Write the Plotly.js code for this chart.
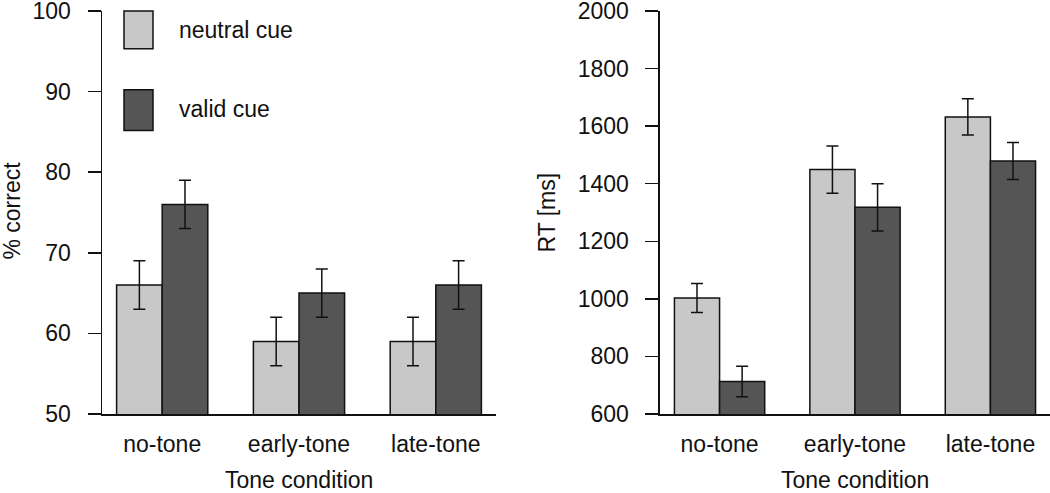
<!DOCTYPE html>
<html>
<head>
<meta charset="UTF-8">
<script src="https://cdn.plot.ly/plotly-3.0.1.min.js"></script>
<style>
  body { margin: 0; background: #fff; }
  #plot { width: 1050px; height: 493px; }
</style>
</head>
<body>
<div id="plot"></div>
<script>
	// tone conditions on the x axis
	var conditions = ['no-tone', 'early-tone', 'late-tone'];

	// accuracy, % correct
	var accNeutral = [66, 59, 59];
	var accNeutralErr = [3, 3, 3];
	var accValid = [76, 65, 66];
	var accValidErr = [3, 3, 3];

	// reaction time, ms
	var rtNeutral = [1003, 1449, 1632];
	var rtNeutralErr = [50, 82, 63];
	var rtValid = [713, 1318, 1479];
	var rtValidErr = [53, 82, 64];

	var seriesNames = ['neutral cue', 'valid cue'];
	var lightGrey = '#c8c8c8';
	var darkGrey = '#555555';
	var fontFamily = '"Liberation Sans", Arial, sans-serif';
	var fs = 23;

	function barTrace(y, err, colour, name, xa, ya)
	{
		return {
			type: 'bar',
			x: conditions,
			y: y,
			name: name,
			xaxis: xa,
			yaxis: ya,
			showlegend: false,
			marker: { color: colour, line: { color: '#111', width: 1.5 } },
			error_y: { type: 'data', array: err, visible: true, color: '#111', thickness: 1.5, width: 6 }
		};
	}

	var data = [
		barTrace(accNeutral, accNeutralErr, lightGrey, seriesNames[0], 'x', 'y'),
		barTrace(accValid, accValidErr, darkGrey, seriesNames[1], 'x', 'y'),
		barTrace(rtNeutral, rtNeutralErr, lightGrey, seriesNames[0], 'x2', 'y2'),
		barTrace(rtValid, rtValidErr, darkGrey, seriesNames[1], 'x2', 'y2')
	];

	function xAxis(domain, anchor)
	{
		return {
			domain: domain,
			anchor: anchor,
			range: [-0.44, 2.44],
			showline: true,
			linecolor: '#111',
			linewidth: 1.5,
			ticks: '',
			ticklabelstandoff: 9,
			showgrid: false,
			zeroline: false,
			tickfont: { size: fs, color: '#111' }
		};
	}

	function yAxis(range, dtick, anchor)
	{
		return {
			anchor: anchor,
			range: range,
			dtick: dtick,
			showline: true,
			linecolor: '#111',
			linewidth: 1.5,
			ticks: 'outside',
			ticklen: 13,
			tickwidth: 1.5,
			tickcolor: '#111',
			ticklabelstandoff: 12,
			ticklabeloverflow: 'allow',
			showgrid: false,
			zeroline: false,
			tickfont: { size: fs, color: '#111' }
		};
	}

	// axis titles as annotations so they sit where the original has them
	function label(x, y, text, angle)
	{
		return { xref: 'paper', yref: 'paper', x: x, y: y, xanchor: 'center', yanchor: 'middle',
			text: text, textangle: angle, showarrow: false, font: { size: fs, color: '#111' } };
	}

	var layout = {
		width: 1050,
		height: 493,
		margin: { l: 102, r: 0, t: 11, b: 79 },
		paper_bgcolor: '#fff',
		plot_bgcolor: '#fff',
		font: { family: fontFamily, color: '#111' },
		barmode: 'group',
		bargap: 1 / 3,
		bargroupgap: 0,
		showlegend: false,
		xaxis: xAxis([0, 0.4156], 'y'),
		yaxis: yAxis([50, 100], 10, 'x'),
		xaxis2: xAxis([0.5886, 1], 'y2'),
		yaxis2: yAxis([600, 2000], 200, 'x2'),
		// hand made legend, big boxes like the original
		shapes: [
			{ type: 'rect', xref: 'paper', yref: 'paper', x0: 0.0232, x1: 0.0538, y0: 0.9062, y1: 1.0,
			  fillcolor: lightGrey, line: { color: '#111', width: 1.5 } },
			{ type: 'rect', xref: 'paper', yref: 'paper', x0: 0.0232, x1: 0.0538, y0: 0.7037, y1: 0.8049,
			  fillcolor: darkGrey, line: { color: '#111', width: 1.5 } }
		],
		annotations: [
			{ xref: 'paper', yref: 'paper', x: 0.0791, y: 0.954, xanchor: 'left', yanchor: 'middle',
			  text: seriesNames[0], showarrow: false, font: { size: fs, color: '#111' } },
			{ xref: 'paper', yref: 'paper', x: 0.0791, y: 0.7556, xanchor: 'left', yanchor: 'middle',
			  text: seriesNames[1], showarrow: false, font: { size: fs, color: '#111' } },
			label(-0.0949, 0.505, '% correct', -90),
			label(0.4694, 0.5, 'RT [ms]', -90),
			label(0.2078, -0.164, 'Tone condition', 0),
			label(0.7943, -0.164, 'Tone condition', 0)
		]
	};

	Plotly.newPlot('plot', data, layout, { staticPlot: true, displayModeBar: false });
</script>
</body>
</html>
